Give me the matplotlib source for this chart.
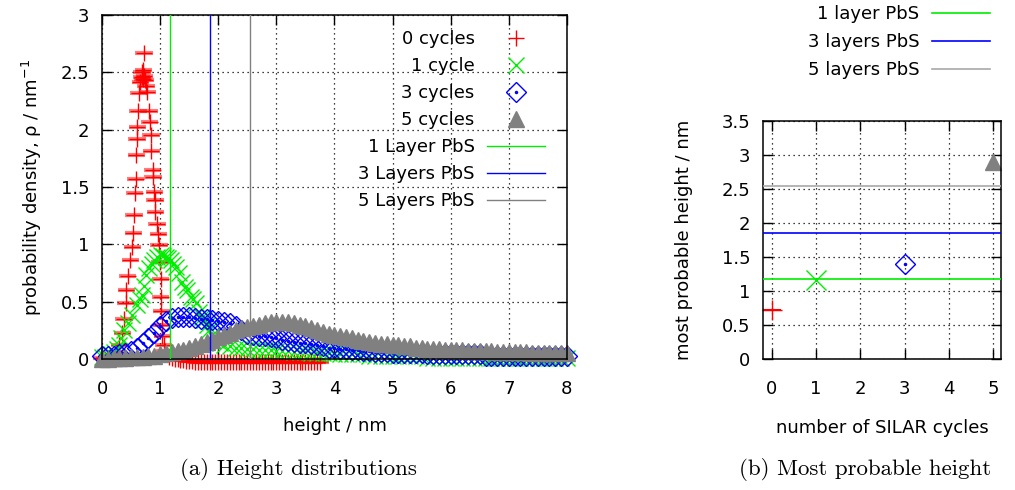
import matplotlib
matplotlib.use('Agg')
import matplotlib.pyplot as plt
from matplotlib.ticker import FuncFormatter, MultipleLocator

# ---------------- data ----------------
# 0 cycles (narrow peak + flat tail)
red_x = [0.00, 0.05, 0.10, 0.15, 0.20, 0.25, 0.30, 0.35, 0.38, 0.41,
         0.42, 0.44, 0.49, 0.52, 0.54, 0.55, 0.56, 0.58, 0.59, 0.60,
         0.61, 0.62, 0.64, 0.66, 0.68, 0.69, 0.70, 0.71, 0.72, 0.73,
         0.74, 0.76, 0.78, 0.81, 0.82, 0.84, 0.85, 0.87, 0.88, 0.90,
         0.91, 0.92, 0.95, 0.97, 0.98, 1.00, 1.01, 1.01, 1.02, 1.03,
         1.04, 1.06, 1.08, 1.10,
         1.15, 1.20, 1.25, 1.30, 1.35, 1.40, 1.45, 1.50, 1.55, 1.60,
         1.65, 1.70, 1.75, 1.80, 1.85, 1.90, 1.95, 2.00, 2.05, 2.10,
         2.15, 2.20, 2.25, 2.30, 2.35, 2.40, 2.45, 2.50, 2.55, 2.60,
         2.65, 2.70, 2.75, 2.80, 2.85, 2.90, 2.95, 3.00, 3.05, 3.10,
         3.15, 3.20, 3.25, 3.30, 3.35, 3.40, 3.45, 3.50, 3.55, 3.60,
         3.65, 3.70, 3.75]
red_y = [0.01, 0.00, 0.01, 0.02, 0.03, 0.06, 0.12, 0.23, 0.35, 0.49,
         0.60, 0.72, 0.86, 0.98, 1.10, 1.26, 1.45, 1.57, 1.78, 1.92,
         2.02, 2.16, 2.32, 2.42, 2.46, 2.50, 2.44, 2.52, 2.67, 2.47,
         2.43, 2.38, 2.33, 2.16, 2.07, 1.95, 1.81, 1.65, 1.59, 1.46,
         1.39, 1.28, 1.18, 1.09, 0.99, 0.85, 0.70, 0.54, 0.42, 0.30,
         0.20, 0.12, 0.07, 0.04,
         0.02, 0.01, 0.00, 0.00, -0.01, -0.01, -0.02, -0.02, -0.02, -0.03,
         -0.03, -0.03, -0.03, -0.03, -0.03, -0.03, -0.03, -0.03, -0.03, -0.03,
         -0.03, -0.03, -0.03, -0.03, -0.03, -0.03, -0.03, -0.03, -0.03, -0.03,
         -0.03, -0.03, -0.03, -0.03, -0.03, -0.03, -0.03, -0.03, -0.03, -0.03,
         -0.03, -0.03, -0.03, -0.03, -0.03, -0.03, -0.03, -0.03, -0.03, -0.03,
         -0.03, -0.03, -0.03]

# 1 cycle
green_x = [0.00, 0.05, 0.10, 0.15, 0.20, 0.25, 0.29, 0.33, 0.38, 0.45,
           0.52, 0.60, 0.65, 0.69, 0.72, 0.75, 0.81, 0.86, 0.90, 0.95,
           1.01, 1.05, 1.10, 1.14, 1.18, 1.22, 1.27, 1.33, 1.38, 1.43,
           1.47, 1.53, 1.57, 1.61, 1.67, 1.72, 1.76, 1.80, 1.84, 1.90,
           1.96, 2.03, 2.10, 2.20, 2.30, 2.40, 2.50, 2.60, 2.70, 2.80,
           2.90, 3.00, 3.10, 3.20, 3.30, 3.40, 3.50, 3.60, 3.70, 3.80,
           3.90, 4.00, 4.10, 4.20, 4.30, 4.40, 4.50, 4.60, 4.70, 4.80,
           4.90, 5.00, 5.10, 5.20, 5.30, 5.40, 5.50, 5.60, 5.70, 5.80,
           5.90, 6.00, 6.10, 6.20, 6.30, 6.40, 6.50, 6.60, 6.70, 6.80,
           6.90, 7.00, 7.10, 7.20, 7.30, 7.40, 7.50, 7.60, 7.70, 7.80,
           7.90, 8.00]
green_y = [0.02, 0.02, 0.03, 0.04, 0.06, 0.09, 0.12, 0.18, 0.25, 0.31,
           0.38, 0.47, 0.52, 0.56, 0.64, 0.73, 0.79, 0.83, 0.86, 0.89,
           0.91, 0.90, 0.89, 0.88, 0.86, 0.83, 0.80, 0.75, 0.67, 0.63,
           0.60, 0.54, 0.52, 0.49, 0.41, 0.37, 0.34, 0.30, 0.25, 0.21,
           0.17, 0.14, 0.12, 0.11, 0.10, 0.10, 0.09, 0.09, 0.08, 0.08,
           0.08, 0.07, 0.07, 0.07, 0.06, 0.06, 0.06, 0.05, 0.05, 0.05,
           0.05, 0.04, 0.04, 0.04, 0.04, 0.04, 0.04, 0.03, 0.03, 0.03,
           0.03, 0.03, 0.03, 0.03, 0.03, 0.03, 0.03, 0.01, 0.01, 0.01,
           0.01, 0.01, 0.01, 0.01, 0.01, 0.01, 0.01, 0.01, 0.01, 0.01,
           0.01, 0.01, 0.01, 0.01, 0.01, 0.01, 0.01, 0.01, 0.01, 0.01,
           0.01, 0.01]

# 3 cycles and 5 cycles share the same x grid
grid_x = [0.0, 0.1, 0.2, 0.3, 0.4, 0.5, 0.6, 0.7, 0.8, 0.9,
          1.0, 1.1, 1.2, 1.3, 1.4, 1.5, 1.6, 1.7, 1.8, 1.9,
          2.0, 2.1, 2.2, 2.3, 2.4, 2.5, 2.6, 2.7, 2.8, 2.9,
          3.0, 3.1, 3.2, 3.3, 3.4, 3.5, 3.6, 3.7, 3.8, 3.9,
          4.0, 4.1, 4.2, 4.3, 4.4, 4.5, 4.6, 4.7, 4.8, 4.9,
          5.0, 5.1, 5.2, 5.3, 5.4, 5.5, 5.6, 5.7, 5.8, 5.9,
          6.0, 6.1, 6.2, 6.3, 6.4, 6.5, 6.6, 6.7, 6.8, 6.9,
          7.0, 7.1, 7.2, 7.3, 7.4, 7.5, 7.6, 7.7, 7.8, 7.9,
          8.0]
blue_y = [0.03, 0.03, 0.03, 0.04, 0.05, 0.07, 0.10, 0.14, 0.18, 0.23,
          0.29, 0.33, 0.36, 0.37, 0.37, 0.37, 0.36, 0.35, 0.35, 0.34,
          0.33, 0.32, 0.31, 0.29, 0.25, 0.22, 0.21, 0.20, 0.20, 0.19,
          0.18, 0.17, 0.16, 0.15, 0.14, 0.14, 0.13, 0.12, 0.11, 0.10,
          0.10, 0.09, 0.09, 0.08, 0.08, 0.07, 0.07, 0.06, 0.06, 0.06,
          0.05, 0.05, 0.05, 0.05, 0.05, 0.05, 0.04, 0.04, 0.04, 0.04,
          0.04, 0.04, 0.04, 0.04, 0.04, 0.04, 0.03, 0.03, 0.03, 0.03,
          0.03, 0.03, 0.03, 0.03, 0.03, 0.03, 0.03, 0.03, 0.03, 0.03,
          0.03]
gray_y = [0.00, 0.00, 0.01, 0.01, 0.01, 0.02, 0.02, 0.02, 0.03, 0.03,
          0.04, 0.05, 0.06, 0.07, 0.08, 0.10, 0.11, 0.13, 0.15, 0.17,
          0.19, 0.21, 0.23, 0.25, 0.27, 0.28, 0.29, 0.30, 0.31, 0.32,
          0.32, 0.32, 0.32, 0.31, 0.30, 0.29, 0.27, 0.25, 0.24, 0.22,
          0.21, 0.20, 0.19, 0.18, 0.17, 0.16, 0.15, 0.14, 0.13, 0.13,
          0.12, 0.12, 0.11, 0.11, 0.10, 0.10, 0.09, 0.09, 0.09, 0.08,
          0.08, 0.08, 0.08, 0.07, 0.07, 0.07, 0.07, 0.07, 0.06, 0.06,
          0.06, 0.06, 0.06, 0.06, 0.05, 0.05, 0.05, 0.05, 0.05, 0.05,
          0.05]

# PbS layer thicknesses (nm)
layer_heights = [1.17, 1.86, 2.54]
layer_labels_a = ['1 Layer PbS', '3 Layers PbS', '5 Layers PbS']
layer_labels_b = ['1 layer PbS', '3 layers PbS', '5 layers PbS']

# most probable height vs. number of SILAR cycles
cycles = [0, 1, 3, 5]
most_probable = [0.72, 1.16, 1.40, 2.90]

RED, GREEN, BLUE, GRAY = '#ff0000', '#00ee00', '#0000ff', '#808080'
FS = 13

plt.rcParams['font.family'] = 'DejaVu Sans'
plt.rcParams['font.size'] = FS

fmt = FuncFormatter(lambda v, _: f'{v:g}')


def style_axes(ax):
    ax.grid(True, color='black', linestyle=(0, (1, 3)), linewidth=0.9)
    ax.set_axisbelow(True)
    ax.tick_params(direction='in', top=True, right=True, length=7,
                   width=1, labelsize=FS)
    ax.tick_params(axis='x', pad=15)
    ax.tick_params(axis='y', pad=9)
    ax.xaxis.set_major_formatter(fmt)
    ax.yaxis.set_major_formatter(fmt)
    for s in ax.spines.values():
        s.set_linewidth(1.1)


fig = plt.figure(figsize=(10.15, 4.9), dpi=100)

# -------------------- (a) height distributions --------------------
ax1 = fig.add_axes([0.1005, 0.2673, 0.458, 0.7021])

ax1.errorbar(red_x, red_y, xerr=0.15, fmt='none', ecolor=RED, alpha=0.5,
             elinewidth=3, capsize=0, clip_on=False)
h0, = ax1.plot(red_x, red_y, ls='none', marker='+', ms=12, mew=1,
               color=RED, clip_on=False)
h1, = ax1.plot(green_x, green_y, ls='none', marker='x', ms=11, mew=1,
               color=GREEN, clip_on=False)
h3, = ax1.plot(grid_x, blue_y, ls='none', marker='D', ms=10, mew=1,
               mfc='none', color=BLUE, clip_on=False)
h3d, = ax1.plot(grid_x, blue_y, ls='none', marker='.', ms=3,
                color=BLUE, clip_on=False)
h5, = ax1.plot(grid_x, gray_y, ls='none', marker='^', ms=11,
               color=GRAY, clip_on=False)

vlines = []
for xv, c in zip(layer_heights, [GREEN, BLUE, GRAY]):
    vlines.append(ax1.axvline(xv, color=c, lw=1, zorder=5))

ax1.set_xlim(0, 8)
ax1.set_ylim(0, 3)
ax1.xaxis.set_major_locator(MultipleLocator(1))
ax1.yaxis.set_major_locator(MultipleLocator(0.5))
style_axes(ax1)
ax1.set_xlabel('height / nm', fontsize=FS, labelpad=14)
ax1.set_ylabel('probability density, ρ / nm$^{-1}$', fontsize=FS,
               labelpad=12)

ax1.legend([h0, h1, (h3, h3d), h5] + vlines,
           ['0 cycles', '1 cycle', '3 cycles', '5 cycles'] + layer_labels_a,
           loc='upper right', bbox_to_anchor=(545 / 1015, 1 - 30 / 490),
           bbox_transform=fig.transFigure, frameon=False, markerfirst=False,
           fontsize=FS, handlelength=3.2, handletextpad=0.7,
           labelspacing=0.5, borderpad=0, borderaxespad=0)

# -------------------- (b) most probable height --------------------
ax2 = fig.add_axes([0.7517, 0.2673, 0.2345, 0.4857])

markers = [dict(marker='+', ms=14, mew=1, color=RED),
           dict(marker='x', ms=14, mew=1, color=GREEN),
           dict(marker='D', ms=10, mew=1, mfc='none', color=BLUE),
           dict(marker='^', ms=12, color=GRAY)]
ax2.errorbar([cycles[0]], [most_probable[0]], xerr=0.2, fmt='none',
             ecolor=RED, elinewidth=1.5, capsize=0, clip_on=False)
for xc, yc, m in zip(cycles, most_probable, markers):
    ax2.plot([xc], [yc], ls='none', clip_on=False, **m)
ax2.plot([cycles[2]], [most_probable[2]], ls='none', marker='.', ms=3,
         color=BLUE)

hlines = []
for yv, c in zip(layer_heights, [GREEN, BLUE, '#a8a8a8']):
    hlines.append(ax2.axhline(yv, color=c, lw=1.2, zorder=5))

ax2.set_xlim(-0.2, 5.18)
ax2.set_ylim(0, 3.5)
ax2.xaxis.set_major_locator(MultipleLocator(1))
ax2.yaxis.set_major_locator(MultipleLocator(0.5))
style_axes(ax2)
ax2.set_xlabel('number of SILAR cycles', fontsize=FS, labelpad=15)
ax2.set_ylabel('most probable height / nm', fontsize=FS, labelpad=21)

fig.legend(hlines, layer_labels_b, loc='upper right',
           bbox_to_anchor=(990 / 1015, 1 - 5 / 490), frameon=False,
           markerfirst=False, fontsize=FS, handlelength=3.2,
           handletextpad=0.7, labelspacing=0.55, borderpad=0,
           borderaxespad=0)

# captions
fig.text(298 / 1015, 1 - 469 / 490, '(a) Height distributions',
         family='cmr10', fontsize=16.5, ha='center', va='center')
fig.text(865 / 1015, 1 - 469 / 490, '(b) Most probable height',
         family='cmr10', fontsize=16.5, ha='center', va='center')

fig.savefig('out.png', dpi=100)
